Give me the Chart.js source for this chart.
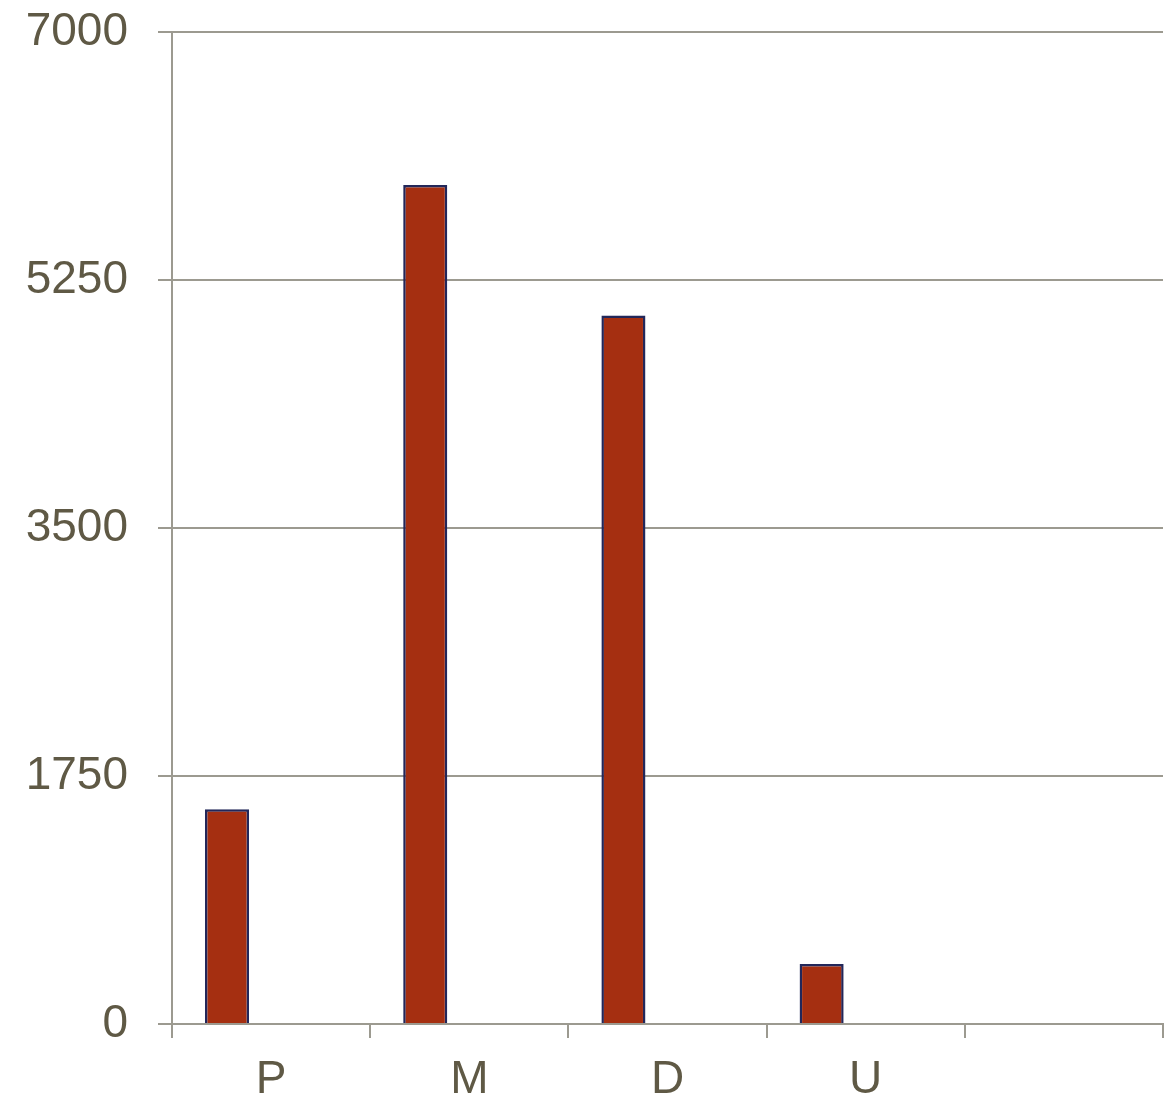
<!DOCTYPE html>
<html lang="en">

<head>
    <meta charset="UTF-8">
    <title>Bar chart</title>
    <script src="https://cdn.jsdelivr.net/npm/chart.js@4"></script>
    <style>
        html, body { margin: 0; padding: 0; background: #fff; }
        #wrap { width: 1173px; height: 1102px; }
    </style>
</head>

<body>
    <div id="wrap"><canvas id="chart"></canvas></div>
    <script>
        // categories (last slot is empty in the original)
        const categories = ["P", "M", "D", "U", ""];
        // main series
        const counts = [1515, 5920, 5000, 423, null];
        // the original leaves room for two more series that have no bars
        const emptyA = [null, null, null, null, null];
        const emptyB = [null, null, null, null, null];
        const yTicks = [0, 1750, 3500, 5250, 7000];

        const axisGray = "#9c9a90";
        const labelColor = "#5f5945";
        const font = { family: "Liberation Sans, Arial, sans-serif", size: 46 };

        const chart = new Chart(document.getElementById("chart"), {
            type: "bar",
            data: {
                labels: categories,
                datasets: [
                    { data: counts, backgroundColor: "#a52f11", borderColor: "#22275a", borderWidth: 2.5 },
                    { data: emptyA },
                    { data: emptyB }
                ]
            },
            options: {
                responsive: true,
                maintainAspectRatio: false,
                devicePixelRatio: 1,
                animation: false,
                layout: { padding: { top: 32, right: 10, left: 0, bottom: 0 } },
                datasets: { bar: { categoryPercentage: 0.667, barPercentage: 1 } },
                plugins: { legend: { display: false }, tooltip: { enabled: false } },
                scales: {
                    x: {
                        grid: { offset: true, drawOnChartArea: false, drawTicks: true, tickLength: 14, color: axisGray, lineWidth: 2 },
                        border: { color: axisGray, width: 2 },
                        ticks: { color: labelColor, font: font, padding: 15, maxRotation: 0 },
                        afterFit(scale) { scale.height = 78; scale.paddingLeft = 0; scale.paddingRight = 0; }
                    },
                    y: {
                        min: 0,
                        max: 7000,
                        afterBuildTicks(scale) { scale.ticks = yTicks.map(v => ({ value: v })); },
                        grid: { color: axisGray, lineWidth: 2, tickLength: 14 },
                        border: { color: axisGray, width: 2 },
                        ticks: { color: labelColor, font: font, padding: 30, callback: v => String(v) },
                        afterFit(scale) { scale.width = 172; scale.paddingTop = 0; scale.paddingBottom = 0; }
                    }
                }
            }
        });
    </script>
</body>

</html>
